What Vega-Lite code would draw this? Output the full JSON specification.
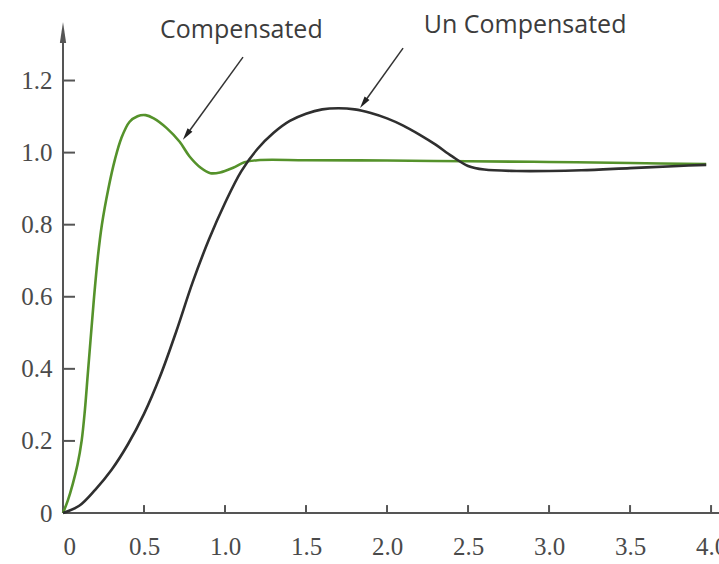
{
  "$schema": "https://vega.github.io/schema/vega-lite/v6.json",
  "width": 656,
  "height": 491,
  "autosize": "none",
  "padding": {"left": 63, "top": 22, "right": 0, "bottom": 51},
  "background": "white",
  "config": {
    "view": {"stroke": null},
    "axis": {
      "grid": false,
      "domain": false,
      "ticks": false,
      "tickSize": 0,
      "labelFont": "Liberation Serif",
      "labelFontSize": 25,
      "labelColor": "#4a4a4a",
      "title": null
    }
  },
  "datasets": {
    "curves": [
      {"t": 0, "y": 0, "s": "Compensated"},
      {"t": 0.03, "y": 0.035, "s": "Compensated"},
      {"t": 0.06, "y": 0.08, "s": "Compensated"},
      {"t": 0.09, "y": 0.135, "s": "Compensated"},
      {"t": 0.115, "y": 0.2, "s": "Compensated"},
      {"t": 0.135, "y": 0.285, "s": "Compensated"},
      {"t": 0.152, "y": 0.38, "s": "Compensated"},
      {"t": 0.17, "y": 0.48, "s": "Compensated"},
      {"t": 0.19, "y": 0.59, "s": "Compensated"},
      {"t": 0.215, "y": 0.71, "s": "Compensated"},
      {"t": 0.24, "y": 0.8, "s": "Compensated"},
      {"t": 0.28, "y": 0.9, "s": "Compensated"},
      {"t": 0.32, "y": 0.98, "s": "Compensated"},
      {"t": 0.36, "y": 1.04, "s": "Compensated"},
      {"t": 0.41, "y": 1.085, "s": "Compensated"},
      {"t": 0.46, "y": 1.101, "s": "Compensated"},
      {"t": 0.51, "y": 1.104, "s": "Compensated"},
      {"t": 0.56, "y": 1.095, "s": "Compensated"},
      {"t": 0.64, "y": 1.068, "s": "Compensated"},
      {"t": 0.72, "y": 1.03, "s": "Compensated"},
      {"t": 0.78, "y": 0.99, "s": "Compensated"},
      {"t": 0.85, "y": 0.958, "s": "Compensated"},
      {"t": 0.91, "y": 0.943, "s": "Compensated"},
      {"t": 0.97, "y": 0.945, "s": "Compensated"},
      {"t": 1.05, "y": 0.958, "s": "Compensated"},
      {"t": 1.12, "y": 0.973, "s": "Compensated"},
      {"t": 1.2, "y": 0.979, "s": "Compensated"},
      {"t": 1.5, "y": 0.979, "s": "Compensated"},
      {"t": 2.0, "y": 0.978, "s": "Compensated"},
      {"t": 2.5, "y": 0.976, "s": "Compensated"},
      {"t": 3.0, "y": 0.974, "s": "Compensated"},
      {"t": 3.5, "y": 0.971, "s": "Compensated"},
      {"t": 3.97, "y": 0.968, "s": "Compensated"},
      {"t": 0, "y": 0, "s": "Un Compensated"},
      {"t": 0.1, "y": 0.02, "s": "Un Compensated"},
      {"t": 0.2, "y": 0.065, "s": "Un Compensated"},
      {"t": 0.3, "y": 0.12, "s": "Un Compensated"},
      {"t": 0.4, "y": 0.19, "s": "Un Compensated"},
      {"t": 0.5, "y": 0.275, "s": "Un Compensated"},
      {"t": 0.6, "y": 0.38, "s": "Un Compensated"},
      {"t": 0.7, "y": 0.505, "s": "Un Compensated"},
      {"t": 0.8, "y": 0.64, "s": "Un Compensated"},
      {"t": 0.9, "y": 0.758, "s": "Un Compensated"},
      {"t": 1.0, "y": 0.86, "s": "Un Compensated"},
      {"t": 1.1, "y": 0.948, "s": "Un Compensated"},
      {"t": 1.2, "y": 1.01, "s": "Un Compensated"},
      {"t": 1.3, "y": 1.055, "s": "Un Compensated"},
      {"t": 1.4, "y": 1.088, "s": "Un Compensated"},
      {"t": 1.5, "y": 1.108, "s": "Un Compensated"},
      {"t": 1.6, "y": 1.12, "s": "Un Compensated"},
      {"t": 1.7, "y": 1.123, "s": "Un Compensated"},
      {"t": 1.8, "y": 1.12, "s": "Un Compensated"},
      {"t": 1.9, "y": 1.11, "s": "Un Compensated"},
      {"t": 2.0, "y": 1.095, "s": "Un Compensated"},
      {"t": 2.1, "y": 1.075, "s": "Un Compensated"},
      {"t": 2.2, "y": 1.05, "s": "Un Compensated"},
      {"t": 2.3, "y": 1.022, "s": "Un Compensated"},
      {"t": 2.4, "y": 0.99, "s": "Un Compensated"},
      {"t": 2.5, "y": 0.963, "s": "Un Compensated"},
      {"t": 2.6, "y": 0.953, "s": "Un Compensated"},
      {"t": 2.8, "y": 0.949, "s": "Un Compensated"},
      {"t": 3.0, "y": 0.949, "s": "Un Compensated"},
      {"t": 3.2, "y": 0.951, "s": "Un Compensated"},
      {"t": 3.5, "y": 0.957, "s": "Un Compensated"},
      {"t": 3.8, "y": 0.963, "s": "Un Compensated"},
      {"t": 3.97, "y": 0.966, "s": "Un Compensated"}
    ],
    "labels": [
      {"t": 1.101, "y": 1.318, "label": "Compensated"},
      {"t": 2.852, "y": 1.332, "label": "Un Compensated"}
    ],
    "arrows": [
      {"t": 1.111, "y": 1.265, "t2": 0.762, "y2": 1.049, "name": "Compensated"},
      {"t": 2.099, "y": 1.29, "t2": 1.855, "y2": 1.137, "name": "Un Compensated"}
    ],
    "axes": [
      {"t": 0, "y": 0, "t2": 4.049, "y2": 0},
      {"t": 0, "y": 0, "t2": 0, "y2": 1.304}
    ],
    "xticks": [
      {"t": 0.5, "y": 0, "y2": 0.022}, {"t": 1.0, "y": 0, "y2": 0.022}, {"t": 1.5, "y": 0, "y2": 0.022}, {"t": 2.0, "y": 0, "y2": 0.022},
      {"t": 2.5, "y": 0, "y2": 0.022}, {"t": 3.0, "y": 0, "y2": 0.022}, {"t": 3.5, "y": 0, "y2": 0.022}, {"t": 4.0, "y": 0, "y2": 0.022}
    ],
    "yticks": [
      {"t": 0, "t2": 0.074, "y": 0.2}, {"t": 0, "t2": 0.074, "y": 0.4}, {"t": 0, "t2": 0.074, "y": 0.6},
      {"t": 0, "t2": 0.074, "y": 0.8}, {"t": 0, "t2": 0.074, "y": 1.0}, {"t": 0, "t2": 0.074, "y": 1.2}
    ],
    "yaxisTip": [{"t": 0, "y": 1.333}]
  },
  "layer": [
    {
      "data": {"name": "axes"},
      "mark": {"type": "rule", "color": "#555", "strokeWidth": 2},
      "encoding": {
        "x": {
          "field": "t", "type": "quantitative",
          "scale": {"domain": [0, 4.049], "nice": false, "zero": true},
          "axis": {
            "values": [0, 0.5, 1, 1.5, 2, 2.5, 3, 3.5, 4],
            "labelPadding": 21,
            "labelExpr": "datum.value == 0 ? '0' : format(datum.value, '.1f')"
          }
        },
        "y": {
          "field": "y", "type": "quantitative",
          "scale": {"domain": [0, 1.3624], "nice": false},
          "axis": {
            "values": [0, 0.2, 0.4, 0.6, 0.8, 1.0, 1.2],
            "labelPadding": 11,
            "labelExpr": "datum.value == 0 ? '0' : format(datum.value, '.1f')"
          }
        },
        "x2": {"field": "t2"},
        "y2": {"field": "y2"}
      }
    },
    {
      "data": {"name": "xticks"},
      "mark": {"type": "rule", "color": "#555", "strokeWidth": 2},
      "encoding": {
        "x": {"field": "t", "type": "quantitative"},
        "y": {"field": "y", "type": "quantitative"},
        "y2": {"field": "y2"}
      }
    },
    {
      "data": {"name": "yticks"},
      "mark": {"type": "rule", "color": "#555", "strokeWidth": 2},
      "encoding": {
        "x": {"field": "t", "type": "quantitative"},
        "x2": {"field": "t2"},
        "y": {"field": "y", "type": "quantitative"}
      }
    },
    {
      "data": {"name": "curves"},
      "mark": {"type": "line", "interpolate": "catmull-rom", "strokeWidth": 2.6},
      "encoding": {
        "x": {"field": "t", "type": "quantitative"},
        "y": {"field": "y", "type": "quantitative"},
        "color": {
          "field": "s", "type": "nominal",
          "scale": {"domain": ["Compensated", "Un Compensated"], "range": ["#55922b", "#2f2f2f"]},
          "legend": null
        }
      }
    },
    {
      "data": {"name": "yaxisTip"},
      "mark": {"type": "point", "shape": "M0,-1L0.3,1L-0.3,1Z", "size": 441, "filled": true, "color": "#555", "opacity": 1},
      "encoding": {
        "x": {"field": "t", "type": "quantitative"},
        "y": {"field": "y", "type": "quantitative"}
      }
    },
    {
      "data": {"name": "arrows"},
      "mark": {"type": "rule", "color": "#333", "strokeWidth": 1.5},
      "encoding": {
        "x": {"field": "t", "type": "quantitative"},
        "y": {"field": "y", "type": "quantitative"},
        "x2": {"field": "t2"},
        "y2": {"field": "y2"}
      }
    },
    {
      "data": {"name": "arrows"},
      "transform": [{"filter": "datum.name == 'Compensated'"}],
      "mark": {"type": "point", "shape": "M0,-1L0.5,1L-0.5,1Z", "size": 144, "filled": true, "color": "#222", "opacity": 1, "angle": 216},
      "encoding": {
        "x": {"field": "t2", "type": "quantitative"},
        "y": {"field": "y2", "type": "quantitative"}
      }
    },
    {
      "data": {"name": "arrows"},
      "transform": [{"filter": "datum.name == 'Un Compensated'"}],
      "mark": {"type": "point", "shape": "M0,-1L0.5,1L-0.5,1Z", "size": 144, "filled": true, "color": "#222", "opacity": 1, "angle": 215.6},
      "encoding": {
        "x": {"field": "t2", "type": "quantitative"},
        "y": {"field": "y2", "type": "quantitative"}
      }
    },
    {
      "data": {"name": "labels"},
      "mark": {"type": "text", "font": "Open Sans", "fontSize": 25, "color": "#3c3c3c", "align": "center", "baseline": "alphabetic"},
      "encoding": {
        "x": {"field": "t", "type": "quantitative"},
        "y": {"field": "y", "type": "quantitative"},
        "text": {"field": "label"}
      }
    }
  ]
}
